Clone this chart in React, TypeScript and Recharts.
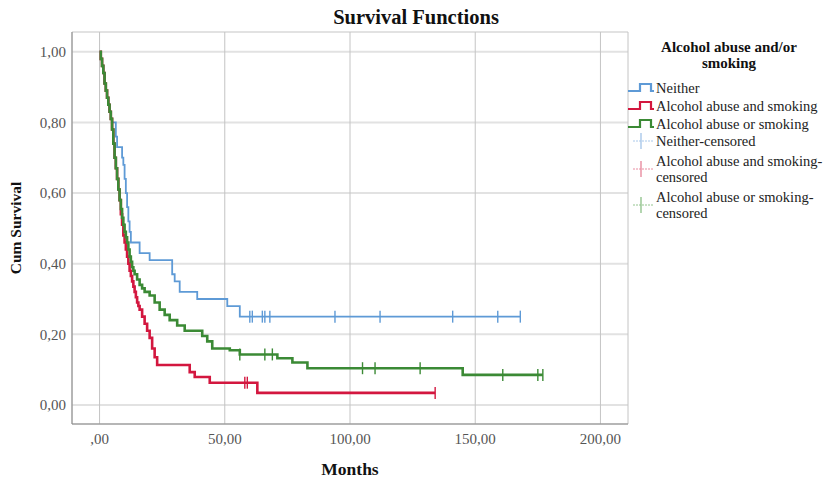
import React from 'react';
import { ComposedChart, Line, Scatter, XAxis, YAxis, CartesianGrid } from 'recharts';

// ticks
const monthTicks = [0, 50, 100, 150, 200];
const survTicks = [0, 0.2, 0.4, 0.6, 0.8, 1.0];

// Neither
const neitherMonths = [0, 0.5, 1, 1.5, 2, 2.5, 3, 3.5, 4, 4.5, 5, 6.5, 7, 9, 9.5, 10, 10.5, 11, 11.5, 12, 12.5, 16, 20, 29, 30, 32, 39, 51, 56, 168];
const neitherSurv = [1.0, 0.98, 0.96, 0.94, 0.91, 0.89, 0.87, 0.85, 0.83, 0.81, 0.8, 0.76, 0.73, 0.7, 0.68, 0.64, 0.6, 0.56, 0.52, 0.49, 0.46, 0.43, 0.41, 0.37, 0.35, 0.32, 0.3, 0.28, 0.25, 0.25];
const neitherCensored = [60, 61, 65, 66, 68, 94, 112, 141, 159, 168];

// Alcohol abuse and smoking
const bothMonths = [0, 0.5, 1, 1.5, 2, 2.5, 3, 3.5, 4, 4.5, 5, 5.5, 6, 6.5, 7, 7.5, 8, 8.5, 9, 9.5, 10, 10.5, 11, 11.5, 12, 12.5, 13, 13.5, 14, 14.5, 15, 15.5, 16, 17, 18, 19, 20, 21, 22, 23, 36, 38, 44, 63, 134];
const bothSurv = [1.0, 0.98, 0.96, 0.94, 0.91, 0.89, 0.87, 0.85, 0.83, 0.81, 0.78, 0.74, 0.7, 0.67, 0.64, 0.61, 0.58, 0.54, 0.51, 0.48, 0.46, 0.44, 0.42, 0.4, 0.38, 0.365, 0.35, 0.335, 0.32, 0.305, 0.29, 0.28, 0.27, 0.25, 0.23, 0.21, 0.19, 0.16, 0.135, 0.113, 0.093, 0.079, 0.063, 0.034, 0.034];
const bothCensored = [58, 59, 134];

// Alcohol abuse or smoking
const eitherMonths = [0, 0.5, 1, 1.5, 2, 2.5, 3, 3.5, 4, 4.5, 5, 5.5, 6, 6.5, 7, 7.5, 8, 8.5, 9, 9.5, 10, 10.5, 11, 11.5, 12, 12.5, 13, 13.5, 14, 15, 16, 17, 18, 20, 22, 24, 26, 28, 31, 34, 41, 43, 45, 52, 56, 71, 77, 83, 145, 177];
const eitherSurv = [1.0, 0.98, 0.96, 0.94, 0.91, 0.89, 0.87, 0.85, 0.83, 0.81, 0.78, 0.74, 0.7, 0.67, 0.64, 0.61, 0.58, 0.555, 0.53, 0.51, 0.49, 0.475, 0.46, 0.44, 0.42, 0.405, 0.39, 0.38, 0.37, 0.355, 0.34, 0.33, 0.32, 0.31, 0.29, 0.27, 0.255, 0.24, 0.225, 0.21, 0.195, 0.18, 0.16, 0.155, 0.143, 0.132, 0.12, 0.104, 0.085, 0.085];
const eitherCensored = [56, 66, 69, 105, 110, 128, 161, 175, 177];

const toSteps = (months: number[], surv: number[]) => months.map((month, i) => ({ month, surv: surv[i] }));

const levelAt = (months: number[], surv: number[], t: number) => {
  let v = surv[0];
  months.forEach((m, i) => {
    if (m <= t) v = surv[i];
  });
  return v;
};

const toCensored = (months: number[], surv: number[], cens: number[]) =>
  cens.map(month => ({ month, surv: levelAt(months, surv, month) }));

const series = [
  { name: 'Neither', color: '#5e9ad6', light: '#a9c8ea', width: 1.8, months: neitherMonths, surv: neitherSurv, cens: neitherCensored },
  { name: 'Alcohol abuse and smoking', color: '#d3173f', light: '#e98ca0', width: 2.6, months: bothMonths, surv: bothSurv, cens: bothCensored },
  { name: 'Alcohol abuse or smoking', color: '#3b8a35', light: '#93c48e', width: 2.6, months: eitherMonths, surv: eitherSurv, cens: eitherCensored },
];

const fmtX = (v: number) => (v === 0 ? ',00' : v.toFixed(2).replace('.', ','));
const fmtY = (v: number) => v.toFixed(2).replace('.', ',');

const censorShape = (color: string) => (props: any) => (
  <line x1={props.cx} x2={props.cx} y1={props.cy - 6} y2={props.cy + 6} stroke={color} strokeWidth={1.4} />
);

const font = '"Liberation Serif", "Times New Roman", serif';

const legendRows = [
  { kind: 'step', idx: 0, lines: ['Neither'], y: 88 },
  { kind: 'step', idx: 1, lines: ['Alcohol abuse and smoking'], y: 106 },
  { kind: 'step', idx: 2, lines: ['Alcohol abuse or smoking'], y: 124 },
  { kind: 'cens', idx: 0, lines: ['Neither-censored'], y: 141 },
  { kind: 'cens', idx: 1, lines: ['Alcohol abuse and smoking-', 'censored'], y: 161 },
  { kind: 'cens', idx: 2, lines: ['Alcohol abuse or smoking-', 'censored'], y: 197 },
];

const Overlay = () => (
  <svg width={832} height={481} style={{ position: 'absolute', left: 0, top: 0, pointerEvents: 'none' }}>
    <text x={416} y={24} textAnchor="middle" fontFamily={font} fontWeight="bold" fontSize={20.5} fill="#111">
      Survival Functions
    </text>
    <text x={350} y={475} textAnchor="middle" fontFamily={font} fontWeight="bold" fontSize={17.5} fill="#111">
      Months
    </text>
    <text
      x={0}
      y={0}
      transform="translate(21,228) rotate(-90)"
      textAnchor="middle"
      fontFamily={font}
      fontWeight="bold"
      fontSize={15.5}
      fill="#111"
    >
      Cum Survival
    </text>
    <text x={729} y={52} textAnchor="middle" fontFamily={font} fontWeight="bold" fontSize={15} fill="#111">
      Alcohol abuse and/or
    </text>
    <text x={729} y={68} textAnchor="middle" fontFamily={font} fontWeight="bold" fontSize={15} fill="#111">
      smoking
    </text>
    {legendRows.map((r, k) => {
      const s = series[r.idx];
      const cy = r.lines.length > 1 ? r.y + 8 : r.y;
      return (
        <g key={k}>
          {r.kind === 'step' ? (
            <path
              d={`M628,${cy + 3} H640 V${cy - 4} H651 V${cy + 3} H654`}
              fill="none"
              stroke={s.color}
              strokeWidth={2.2}
            />
          ) : (
            <g>
              <line x1={633} x2={654} y1={cy} y2={cy} stroke={s.light} strokeWidth={1} strokeDasharray="2 1" />
              <line x1={641} x2={641} y1={cy - 8} y2={cy + 8} stroke={s.light} strokeWidth={1.4} />
            </g>
          )}
          {r.lines.map((t, j) => (
            <text key={j} x={656} y={r.y + 5 + j * 16} fontFamily={font} fontSize={14.5} fill="#222">
              {t}
            </text>
          ))}
        </g>
      );
    })}
  </svg>
);

export default function App() {
  return (
    <div style={{ position: 'absolute', left: 0, top: 0, width: 832, height: 481, background: '#fff' }}>
      <ComposedChart width={832} height={481} margin={{ top: 32, right: 204, bottom: 27, left: 0 }}>
        <CartesianGrid vertical={false} stroke="#e2e2e2" strokeWidth={2} />
        <CartesianGrid horizontal={false} stroke="#c4c4c4" strokeWidth={1} />
        <XAxis
          type="number"
          dataKey="month"
          domain={[-11, 211]}
          ticks={monthTicks}
          tickFormatter={fmtX}
          allowDataOverflow
          height={30}
          stroke="#8a8a8a"
          tickLine={false}
          tickMargin={3}
          tick={{ fill: '#555', fontSize: 15, fontFamily: font }}
        />
        <YAxis
          type="number"
          dataKey="surv"
          domain={[-0.054, 1.056]}
          ticks={survTicks}
          tickFormatter={fmtY}
          allowDataOverflow
          width={72}
          stroke="#8a8a8a"
          tickLine={false}
          tickSize={0}
          tickMargin={6}
          tick={{ fill: '#555', fontSize: 15, fontFamily: font }}
        />
        {series.map(s => (
          <Line
            key={s.name}
            data={toSteps(s.months, s.surv)}
            dataKey="surv"
            type="stepAfter"
            stroke={s.color}
            strokeWidth={s.width}
            dot={false}
            activeDot={false}
            isAnimationActive={false}
          />
        ))}
        {series.map(s => (
          <Scatter
            key={s.name + '-c'}
            data={toCensored(s.months, s.surv, s.cens)}
            dataKey="surv"
            shape={censorShape(s.color)}
            isAnimationActive={false}
          />
        ))}
      </ComposedChart>
      <Overlay />
    </div>
  );
}
